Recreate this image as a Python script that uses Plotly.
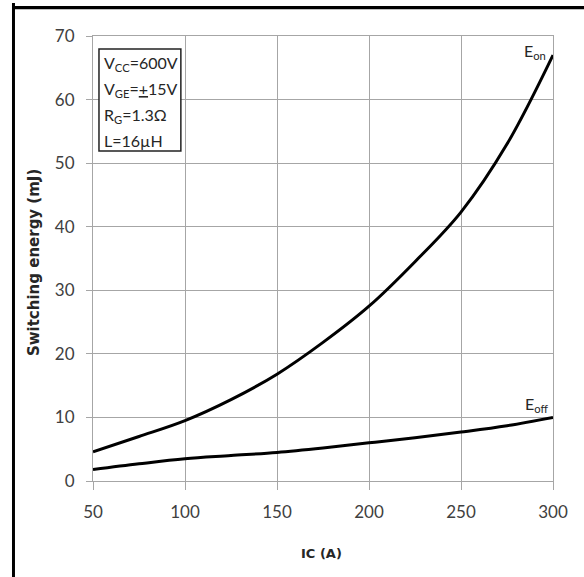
import plotly.graph_objects as go

ic = [50, 75, 100, 125, 150, 175, 200, 225, 250, 275, 300]
e_on = [4.6, 7.0, 9.5, 12.8, 16.8, 21.8, 27.5, 34.5, 42.3, 53.0, 67.0]
e_off = [1.8, 2.7, 3.5, 4.0, 4.5, 5.2, 6.0, 6.8, 7.7, 8.7, 10.0]
conditions = ["V<sub>CC</sub>=600V", "V<sub>GE</sub>=<u>+</u>15V", "R<sub>G</sub>=1.3Ω", "L=16µH"]
x_ticks = [50, 100, 150, 200, 250, 300]
y_ticks = [0, 10, 20, 30, 40, 50, 60, 70]

FONT = "Lato, 'Open Sans', sans-serif"
BOLD = "'DejaVu Sans', sans-serif"
GRID = "#a6a6a6"

fig = go.Figure()
fig.add_trace(go.Scatter(x=ic, y=e_on, mode="lines", line=dict(color="black", width=3, shape="spline", smoothing=1.0), showlegend=False))
fig.add_trace(go.Scatter(x=ic, y=e_off, mode="lines", line=dict(color="black", width=3, shape="spline", smoothing=1.0), showlegend=False))

fig.update_layout(
    width=584, height=577,
    margin=dict(l=93, r=31, t=36, b=96),
    paper_bgcolor="white", plot_bgcolor="white",
    font=dict(family=FONT, size=17, color="#404040"),
    xaxis=dict(range=[50, 300], tickvals=x_ticks, showgrid=True, gridcolor=GRID, gridwidth=1,
               showline=True, linecolor=GRID, linewidth=1, mirror=True,
               ticks="outside", ticklen=8, tickcolor=GRID, zeroline=False, ticklabelstandoff=8,
               tickfont=dict(size=17, color="#404040")),
    yaxis=dict(range=[0, 70], tickvals=y_ticks, showgrid=True, gridcolor=GRID, gridwidth=1,
               showline=True, linecolor=GRID, linewidth=1, mirror=True,
               ticks="outside", ticklen=6, tickcolor=GRID, zeroline=False, ticklabelstandoff=8,
               tickfont=dict(size=17, color="#404040")),
)

# outer frame (left and top edges visible) as filled bars
fig.add_shape(type="rect", xref="paper", yref="paper", x0=-0.1761, x1=-0.1696, y0=-0.4, y1=1.0742,
              line=dict(width=0), fillcolor="black", layer="above")
fig.add_shape(type="rect", xref="paper", yref="paper", x0=-0.1761, x1=1.3, y0=1.0600, y1=1.0674,
              line=dict(width=0), fillcolor="black", layer="above")

# conditions box
fig.add_shape(type="rect", xref="paper", yref="paper", x0=0.013, x1=0.191, y0=0.7416, y1=0.971,
              line=dict(color="#222222", width=1.5), fillcolor="white")
ys = [0.939, 0.879, 0.822, 0.766]
for txt, yy in zip(conditions, ys):
    fig.add_annotation(x=0.0196, y=yy, xref="paper", yref="paper", text=txt, showarrow=False,
                       xanchor="left", yanchor="middle", font=dict(size=16, color="#262626", family=FONT))

fig.add_annotation(x=0.961, y=0.966, xref="paper", yref="paper", text="E<sub>on</sub>", showarrow=False,
                   xanchor="center", yanchor="middle", font=dict(size=16, color="#262626", family=FONT))
fig.add_annotation(x=0.965, y=0.173, xref="paper", yref="paper", text="E<sub>off</sub>", showarrow=False,
                   xanchor="center", yanchor="middle", font=dict(size=16, color="#262626", family=FONT))

fig.add_annotation(x=-0.104, y=0.49, xref="paper", yref="paper", text="<b>Switching energy (mJ)</b>",
                   showarrow=False, textangle=-90, xanchor="right", font=dict(size=15, color="#262626", family=BOLD))
fig.add_annotation(x=0.497, y=-0.162, xref="paper", yref="paper", text="<b>IC (A)</b>",
                   showarrow=False, yanchor="middle", font=dict(size=13, color="#262626", family=BOLD))

fig.write_html("out.html", config={"displayModeBar": False},
               post_script="document.body.style.margin='0';document.body.style.overflow='hidden';")
